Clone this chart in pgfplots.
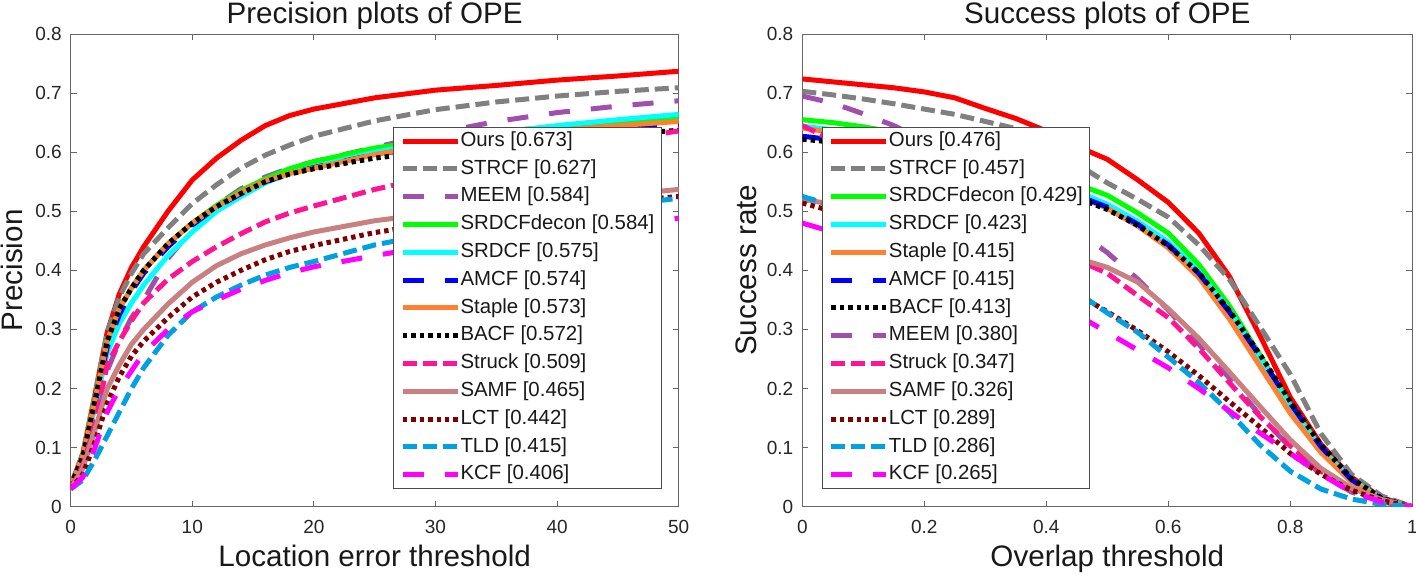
\documentclass[border=0pt]{standalone}
\usepackage{fontspec}
\setmainfont{Liberation Sans}
\usepackage{pgfplots}
\usepackage{pgfplotstable}
\pgfplotsset{compat=1.18}

\definecolor{cOurs}{RGB}{255,0,0}
\definecolor{cSTRCF}{RGB}{128,128,128}
\definecolor{cMEEM}{RGB}{160,80,170}
\definecolor{cDecon}{RGB}{0,255,0}
\definecolor{cSRDCF}{RGB}{0,255,255}
\definecolor{cAMCF}{RGB}{0,0,255}
\definecolor{cStaple}{RGB}{255,128,48}
\definecolor{cBACF}{RGB}{0,0,0}
\definecolor{cStruck}{RGB}{255,20,147}
\definecolor{cSAMF}{RGB}{200,128,128}
\definecolor{cLCT}{RGB}{128,0,0}
\definecolor{cTLD}{RGB}{0,160,225}
\definecolor{cKCF}{RGB}{255,0,255}

% precision curves (location error threshold)
\pgfplotstableread{
x  ours  strcf meem  decon srdcf amcf  staple bacf  struck samf  lct   tld   kcf
0  .035  .035  .030  .035  .035  .035  .035   .035  .030   .030  .030  .030  .030
1  .090  .090  .070  .085  .080  .085  .085   .085  .070   .065  .055  .045  .050
2  .190  .190  .150  .180  .170  .175  .180   .180  .140   .130  .110  .080  .100
3  .295  .295  .230  .280  .260  .270  .280   .280  .240   .200  .175  .120  .160
4  .360  .355  .280  .335  .310  .325  .335   .335  .280   .240  .220  .160  .200
5  .405  .395  .320  .370  .345  .365  .370   .370  .315   .275  .255  .200  .230
6  .440  .428  .350  .400  .375  .395  .400   .400  .345   .300  .280  .235  .260
8  .500  .472  .420  .445  .425  .440  .445   .445  .385   .343  .320  .290  .300
10 .553  .513  .470  .480  .465  .477  .480   .480  .415   .380  .355  .330  .330
12 .590  .545  .510  .510  .500  .507  .508   .508  .440   .408  .380  .355  .350
14 .620  .573  .538  .535  .525  .530  .532   .530  .462   .428  .400  .375  .368
16 .645  .595  .558  .555  .548  .550  .552   .550  .482   .443  .418  .392  .383
18 .662  .612  .573  .572  .564  .564  .564   .563  .497   .455  .432  .405  .396
20 .673  .627  .584  .584  .575  .574  .573   .572  .509   .465  .442  .415  .406
25 .692  .653  .608  .607  .600  .596  .596   .590  .537   .484  .464  .443  .425
30 .705  .672  .632  .622  .618  .611  .613   .602  .560   .497  .480  .463  .442
35 .713  .685  .652  .635  .633  .623  .626   .613  .583   .507  .495  .481  .456
40 .722  .695  .667  .643  .645  .632  .637   .622  .603   .518  .506  .496  .468
45 .729  .703  .678  .650  .655  .640  .645   .630  .620   .527  .516  .510  .479
50 .737  .709  .687  .657  .664  .647  .652   .637  .636   .537  .525  .522  .488
}\precdata

% success curves (overlap threshold)
\pgfplotstableread{
x    ours  strcf decon srdcf staple amcf  bacf  meem  struck samf  lct   tld   kcf
0    .724  .703  .655  .644  .641   .627  .622  .695  .645   .520  .514  .525  .480
0.05 .719  .697  .650  .638  .633   .621  .617  .683  .620   .512  .500  .510  .465
0.10 .714  .690  .643  .631  .625   .614  .610  .665  .595   .505  .485  .495  .450
0.15 .709  .682  .634  .622  .615   .606  .602  .645  .570   .498  .470  .480  .435
0.20 .702  .673  .624  .612  .604   .597  .593  .620  .545   .490  .455  .465  .420
0.25 .692  .664  .612  .600  .592   .587  .583  .592  .520   .480  .440  .449  .405
0.30 .674  .652  .598  .586  .578   .575  .571  .562  .495   .467  .423  .432  .388
0.35 .657  .640  .582  .570  .562   .561  .557  .532  .470   .452  .405  .413  .370
0.40 .636  .615  .565  .553  .545   .545  .541  .500  .445   .437  .385  .390  .350
0.45 .610  .580  .546  .534  .527   .527  .523  .468  .418   .421  .360  .363  .325
0.50 .588  .548  .527  .512  .505   .507  .503  .430  .395   .405  .330  .328  .295
0.55 .553  .520  .497  .483  .475   .478  .476  .385  .357   .380  .298  .295  .265
0.60 .515  .490  .463  .448  .438   .443  .442  .333  .320   .335  .262  .253  .235
0.65 .463  .443  .410  .398  .388   .395  .396  .275  .268   .285  .222  .210  .200
0.70 .390  .385  .340  .332  .318   .330  .332  .218  .210   .228  .178  .160  .162
0.75 .290  .305  .257  .252  .238   .255  .258  .155  .153   .170  .135  .105  .125
0.80 .185  .224  .172  .170  .158   .175  .178  .100  .103   .113  .090  .060  .090
0.85 .106  .124  .100  .099  .092   .102  .105  .055  .060   .065  .055  .030  .055
0.90 .050  .055  .045  .045  .042   .046  .048  .025  .030   .032  .028  .013  .025
0.95 .015  .018  .013  .013  .012   .013  .014  .008  .012   .012  .010  .004  .008
1.00 0     0     0     0     0      0     0     0     0      0     0     0     0
}\succdata

\pgfplotsset{
  lw/.style={line width=2.5pt, line cap=butt, line join=round},
  pOurs/.style={lw, cOurs},
  pSTRCF/.style={lw, cSTRCF, dash pattern=on 7pt off 3pt},
  pMEEM/.style={lw, cMEEM, dash pattern=on 10.5pt off 10.5pt},
  pDecon/.style={lw, cDecon},
  pSRDCF/.style={lw, cSRDCF},
  pAMCF/.style={lw, cAMCF, dash pattern=on 10.5pt off 10.5pt},
  pStaple/.style={lw, cStaple},
  pBACF/.style={lw, cBACF, dash pattern=on 2.2pt off 2pt},
  pStruck/.style={lw, cStruck, dash pattern=on 7pt off 3pt},
  pSAMF/.style={lw, cSAMF},
  pLCT/.style={lw, cLCT, dash pattern=on 2.2pt off 2pt},
  pTLD/.style={lw, cTLD, dash pattern=on 7pt off 3pt},
  pKCF/.style={lw, cKCF, dash pattern=on 10.5pt off 10.5pt},
  opeaxis/.style={
    scale only axis,
    height=236.35pt,
    axis line style={black!60, line width=0.5pt},
    every tick/.style={black!60, line width=0.5pt},
    major tick length=3pt,
    tick align=inside,
    /pgf/number format/assume math mode=true,
    tick label style={font=\fontsize{9.5}{11}\selectfont, text=black!85},
    xticklabel style={anchor=base, yshift=-13.6pt},
    yticklabel style={anchor=east, inner sep=0pt, xshift=-4.3pt},
    title style={at={(0.5,1)}, anchor=base, yshift=-0.9pt,
      font=\fontsize{14.8}{17}\selectfont, text=black!90},
    xlabel style={at={(axis description cs:0.5,0)}, anchor=base, yshift=-30pt,
      font=\fontsize{14.8}{17}\selectfont, text=black!90},
    ylabel style={at={(axis description cs:0,0.5)}, anchor=base, yshift=24pt,
      font=\fontsize{14.8}{17}\selectfont, text=black!90},
    ymin=0, ymax=0.8,
    ytick={0,0.1,0.2,0.3,0.4,0.5,0.6,0.7,0.8},
    yticklabels={0,0.1,0.2,0.3,0.4,0.5,0.6,0.7,0.8},
    legend image code/.code={\draw[##1] (0pt,0pt) -- (27.5pt,0pt);},
    legend cell align=left,
    legend style={anchor=north west, draw=black!70, line width=0.5pt, fill=white,
      inner xsep=3.35pt, inner ysep=2pt,
      font=\fontsize{10.2}{12}\selectfont, text=black!90,
      row sep=3.9pt,
      nodes={inner sep=0pt, text height=7.6pt, text depth=2.4pt},
      /tikz/every even column/.append style={column sep=2.85pt}},
  },
}

\begin{document}
\begin{tikzpicture}
\useasboundingbox (0,0) rectangle (708pt,290pt);

\begin{axis}[opeaxis,
  at={(35.35pt,36.65pt)}, anchor=south west,
  width=304pt,
  xmin=0, xmax=50, xtick={0,10,20,30,40,50},
  title={Precision plots of OPE},
  xlabel={Location error threshold},
  ylabel={Precision},
  legend style={at={(0.5306,0.804)}},
  ]
  \addplot[pOurs]   table[x=x, y=ours]   {\precdata}; \addlegendentry{Ours [0.673]}
  \addplot[pSTRCF]  table[x=x, y=strcf]  {\precdata}; \addlegendentry{STRCF [0.627]}
  \addplot[pMEEM]   table[x=x, y=meem]   {\precdata}; \addlegendentry{MEEM [0.584]}
  \addplot[pDecon]  table[x=x, y=decon]  {\precdata}; \addlegendentry{SRDCFdecon [0.584]}
  \addplot[pSRDCF]  table[x=x, y=srdcf]  {\precdata}; \addlegendentry{SRDCF [0.575]}
  \addplot[pAMCF]   table[x=x, y=amcf]   {\precdata}; \addlegendentry{AMCF [0.574]}
  \addplot[pStaple] table[x=x, y=staple] {\precdata}; \addlegendentry{Staple [0.573]}
  \addplot[pBACF]   table[x=x, y=bacf]   {\precdata}; \addlegendentry{BACF [0.572]}
  \addplot[pStruck] table[x=x, y=struck] {\precdata}; \addlegendentry{Struck [0.509]}
  \addplot[pSAMF]   table[x=x, y=samf]   {\precdata}; \addlegendentry{SAMF [0.465]}
  \addplot[pLCT]    table[x=x, y=lct]    {\precdata}; \addlegendentry{LCT [0.442]}
  \addplot[pTLD]    table[x=x, y=tld]    {\precdata}; \addlegendentry{TLD [0.415]}
  \addplot[pKCF]    table[x=x, y=kcf]    {\precdata}; \addlegendentry{KCF [0.406]}
\end{axis}

\begin{axis}[opeaxis,
  at={(401.15pt,36.65pt)}, anchor=south west,
  width=305pt,
  xmin=0, xmax=1, xtick={0,0.2,0.4,0.6,0.8,1},
  xticklabels={0,0.2,0.4,0.6,0.8,1},
  title={Success plots of OPE},
  xlabel={Overlap threshold},
  ylabel={Success rate},
  ylabel style={yshift=-1pt},
  legend style={at={(0.0318,0.804)}},
  ]
  \addplot[pOurs]   table[x=x, y=ours]   {\succdata}; \addlegendentry{Ours [0.476]}
  \addplot[pSTRCF]  table[x=x, y=strcf]  {\succdata}; \addlegendentry{STRCF [0.457]}
  \addplot[pDecon]  table[x=x, y=decon]  {\succdata}; \addlegendentry{SRDCFdecon [0.429]}
  \addplot[pSRDCF]  table[x=x, y=srdcf]  {\succdata}; \addlegendentry{SRDCF [0.423]}
  \addplot[pStaple] table[x=x, y=staple] {\succdata}; \addlegendentry{Staple [0.415]}
  \addplot[pAMCF]   table[x=x, y=amcf]   {\succdata}; \addlegendentry{AMCF [0.415]}
  \addplot[pBACF]   table[x=x, y=bacf]   {\succdata}; \addlegendentry{BACF [0.413]}
  \addplot[pMEEM]   table[x=x, y=meem]   {\succdata}; \addlegendentry{MEEM [0.380]}
  \addplot[pStruck] table[x=x, y=struck] {\succdata}; \addlegendentry{Struck [0.347]}
  \addplot[pSAMF]   table[x=x, y=samf]   {\succdata}; \addlegendentry{SAMF [0.326]}
  \addplot[pLCT]    table[x=x, y=lct]    {\succdata}; \addlegendentry{LCT [0.289]}
  \addplot[pTLD]    table[x=x, y=tld]    {\succdata}; \addlegendentry{TLD [0.286]}
  \addplot[pKCF]    table[x=x, y=kcf]    {\succdata}; \addlegendentry{KCF [0.265]}
\end{axis}
\end{tikzpicture}
\end{document}
